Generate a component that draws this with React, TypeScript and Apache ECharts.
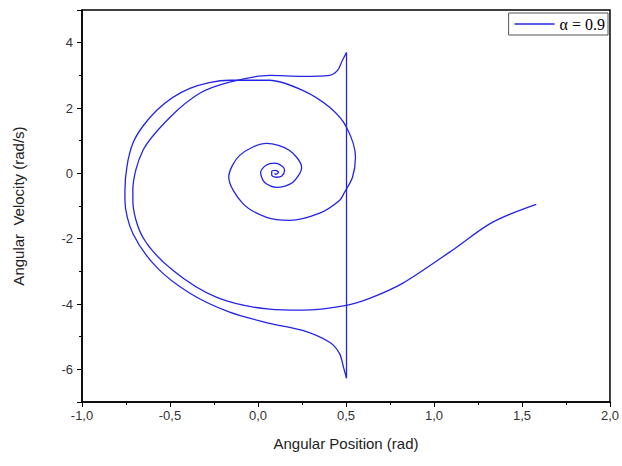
import React, { useEffect, useRef } from "react";
import * as echarts from "echarts";

const seriesName = "α = 0.9";

// Trajectory before the impact (start -> spike top)
const approachX = [1.581, 1.331, 1.087, 0.821, 0.634, 0.503, 0.254, 0.066, -0.234, -0.484, -0.654, -0.711, -0.711, -0.654, -0.501, -0.331, -0.161, 0.066, 0.254, 0.407, 0.452, 0.48, 0.503];
const approachY = [-0.95, -1.5, -2.42, -3.37, -3.83, -4.04, -4.19, -4.16, -3.8, -2.97, -1.96, -0.83, -0.52, 0.7, 1.71, 2.45, 2.79, 3.0, 2.97, 3.0, 3.15, 3.46, 3.7];

// Jump
const jumpX = [0.503, 0.503];
const jumpY = [3.7, -6.27];

// Trajectory after the impact (spike bottom -> spiral focus)
const settleX = [0.503, 0.486, 0.463, 0.407, 0.254, 0.066, -0.161, -0.387, -0.575, -0.711, -0.756, -0.756, -0.711, -0.575, -0.387, -0.161, 0.066, 0.254, 0.407, 0.503, 0.554, 0.537, 0.492, 0.463, 0.35, 0.18, 0.049, -0.087, -0.166, -0.104, 0.049, 0.18, 0.248, 0.197, 0.106, 0.038, 0.015, 0.044, 0.095, 0.14, 0.151, 0.134, 0.106, 0.078, 0.078, 0.1, 0.117, 0.1, 0.095];
const settleY = [-6.27, -5.94, -5.51, -5.17, -4.81, -4.59, -4.25, -3.67, -2.88, -1.84, -0.83, -0.52, 0.92, 1.93, 2.6, 2.85, 2.85, 2.54, 2.02, 1.41, 0.49, -0.12, -0.58, -0.83, -1.22, -1.44, -1.35, -0.92, -0.12, 0.55, 0.92, 0.7, 0.18, -0.28, -0.43, -0.28, 0.03, 0.24, 0.31, 0.21, 0.09, -0.09, -0.12, -0.06, 0.06, 0.09, 0.03, -0.03, 0.0];

const xTickMin = -1;
const xTickMax = 2;
const yTickMin = -7;
const yTickMax = 5;

const zip = (xs: number[], ys: number[]) => xs.map((x, i) => [x, ys[i]]);

const lineColor = "#2424e6";

export default function App() {
  const ref = useRef<HTMLDivElement>(null);
  useEffect(() => {
    if (!ref.current) return;
    const chart = echarts.init(ref.current, undefined, { renderer: "svg" });
    const fmt = (v: number) => v.toFixed(1).replace(".", ",");
    const mkSeries = (data: number[][], smooth: number) => ({
      name: seriesName,
      type: "line",
      data,
      smooth,
      symbol: "none",
      lineStyle: { color: lineColor, width: 1.3 },
      itemStyle: { color: lineColor },
    });
    chart.setOption({
      animation: false,
      backgroundColor: "#fff",
      grid: {
        left: 82,
        right: 11,
        top: 10,
        bottom: 64,
        show: true,
        borderColor: "#000",
        borderWidth: 1.5,
        backgroundColor: "transparent",
      },
      legend: {
        data: [seriesName],
        right: 14,
        top: 13,
        icon: "rect",
        itemWidth: 40,
        itemHeight: 1.5,
        itemGap: 4,
        padding: [3, 3, 3, 6],
        borderColor: "#555",
        borderWidth: 1,
        textStyle: { fontFamily: "'Liberation Serif', 'Times New Roman', serif", fontSize: 16, color: "#000" },
      },
      xAxis: {
        type: "value",
        min: xTickMin,
        max: xTickMax,
        interval: 0.5,
        name: "Angular Position (rad)",
        nameLocation: "middle",
        nameGap: 34,
        nameTextStyle: { fontFamily: "Liberation Sans", fontSize: 15, color: "#222" },
        axisLine: { show: true, onZero: false, lineStyle: { color: "#000", width: 1.5 } },
        axisTick: { show: true, length: 5, inside: false, lineStyle: { color: "#000" } },
        minorTick: { show: true, splitNumber: 2, length: 3, lineStyle: { color: "#000" } },
        splitLine: { show: false },
        axisLabel: { formatter: fmt, fontFamily: "Liberation Sans", fontSize: 13, color: "#333", margin: 7 },
      },
      yAxis: {
        type: "value",
        min: yTickMin,
        max: yTickMax,
        splitNumber: 6,
        name: "Angular  Velocity (rad/s)",
        nameLocation: "middle",
        nameGap: 56,
        nameTextStyle: { fontFamily: "Liberation Sans", fontSize: 15, color: "#222" },
        axisLine: { show: true, onZero: false, lineStyle: { color: "#000", width: 1.5 } },
        axisTick: { show: true, length: 5, inside: false, lineStyle: { color: "#000" } },
        minorTick: { show: true, splitNumber: 2, length: 3, lineStyle: { color: "#000" } },
        splitLine: { show: false },
        axisLabel: {
          formatter: (v: number) => (v === yTickMin || v === yTickMax ? "" : String(v)),
          fontFamily: "Liberation Sans",
          fontSize: 13,
          color: "#333",
          margin: 9,
        },
      },
      series: [
        mkSeries(zip(approachX, approachY), 0.3),
        mkSeries(zip(jumpX, jumpY), 0),
        mkSeries(zip(settleX, settleY), 0.3),
      ],
    });
    return () => chart.dispose();
  }, []);
  return (
    <div
      ref={ref}
      style={{ position: "absolute", left: 0, top: 0, width: 622, height: 466 }}
    />
  );
}
